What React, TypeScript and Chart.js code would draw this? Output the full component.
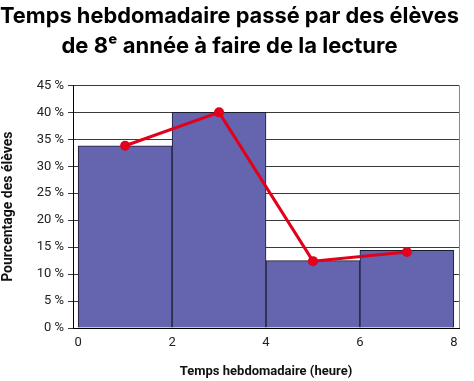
import React, { useEffect, useRef } from "react";
import { Chart, registerables } from "chart.js";

Chart.register(...registerables);

const titleLines = ["Temps hebdomadaire passé par des élèves", "de 8ᵉ année à faire de la lecture"];
const binCenters = [1, 3, 5, 7];
const barValues = [33.8, 40, 12.5, 14.4];
const lineValues = [33.8, 40, 12.4, 14.1];
const xTicks = [0, 2, 4, 6, 8];
const xTitle = "Temps hebdomadaire (heure)";
const yTitle = "Pourcentage des élèves";

const font = "Roboto, 'Noto Sans', sans-serif";

const rightBorder = {
  id: "rightBorder",
  afterDraw(chart: any) {
    const { ctx, chartArea } = chart;
    ctx.save();
    ctx.strokeStyle = "#888";
    ctx.lineWidth = 1;
    ctx.beginPath();
    ctx.moveTo(chartArea.right + 0.5, chartArea.top);
    ctx.lineTo(chartArea.right + 0.5, chartArea.bottom);
    ctx.stroke();
    ctx.restore();
  },
};

export default function App() {
  const ref = useRef<HTMLCanvasElement | null>(null);
  useEffect(() => {
    document.body.style.margin = "0";
    const chart = new Chart(ref.current!, {
      type: "bar",
      data: {
        datasets: [
          {
            type: "line",
            data: binCenters.map((x, i) => ({ x, y: lineValues[i] })),
            borderColor: "#E2001A",
            backgroundColor: "#E2001A",
            borderWidth: 3,
            pointRadius: 5,
            pointBackgroundColor: "#E2001A",
            pointBorderWidth: 0,
            order: 0,
          } as any,
          {
            type: "bar",
            data: binCenters.map((x, i) => ({ x, y: barValues[i] })),
            backgroundColor: "#6464AF",
            borderColor: "#1c1c30",
            borderWidth: 1,
            barPercentage: 1,
            categoryPercentage: 1,
            order: 1,
          } as any,
        ],
      },
      options: {
        responsive: false,
        animation: false,
        layout: { padding: { left: 0, right: 15, top: 0, bottom: 0 } },
        plugins: {
          legend: { display: false },
          tooltip: { enabled: false },
          title: {
            display: true,
            text: titleLines,
            color: "#000",
            font: { family: "Inter, Roboto, sans-serif", size: 22, weight: "bold", lineHeight: 1.35 },
            padding: { top: 2, bottom: 24 },
          },
        },
        scales: {
          x: {
            type: "linear",
            offset: false,
            min: -0.11,
            max: 8.11,
            afterBuildTicks: (scale: any) => {
              scale.ticks = xTicks.map((v) => ({ value: v }));
            },
            afterFit: (scale: any) => {
              scale.height = 53;
            },
            grid: { display: false, drawTicks: false, offset: false },
            border: { display: true, color: "#000", width: 1 },
            ticks: {
              color: "#222",
              font: { family: font, size: 13 },
              padding: 7,
              maxRotation: 0,
            },
            title: {
              display: true,
              text: xTitle,
              color: "#111",
              font: { family: font, size: 13, weight: "bold" },
              padding: { top: 6, bottom: 1 },
            },
          },
          y: {
            min: 0,
            max: 45,
            afterFit: (scale: any) => {
              scale.width = 73;
            },
            ticks: {
              stepSize: 5,
              color: "#222",
              font: { family: font, size: 13 },
              padding: 4,
              callback: (v: any) => v + " %",
            },
            grid: { color: "#3a3a3a", lineWidth: 1, tickLength: 5, drawTicks: true },
            border: { display: true, color: "#000", width: 1 },
            title: {
              display: true,
              text: yTitle,
              color: "#111",
              font: { family: font, size: 14, weight: "bold" },
              padding: { top: 0, bottom: 4 },
            },
          },
        },
      },
      plugins: [rightBorder],
    });
    return () => chart.destroy();
  }, []);
  return <canvas ref={ref} width={474} height={381} style={{ display: "block" }} />;
}
